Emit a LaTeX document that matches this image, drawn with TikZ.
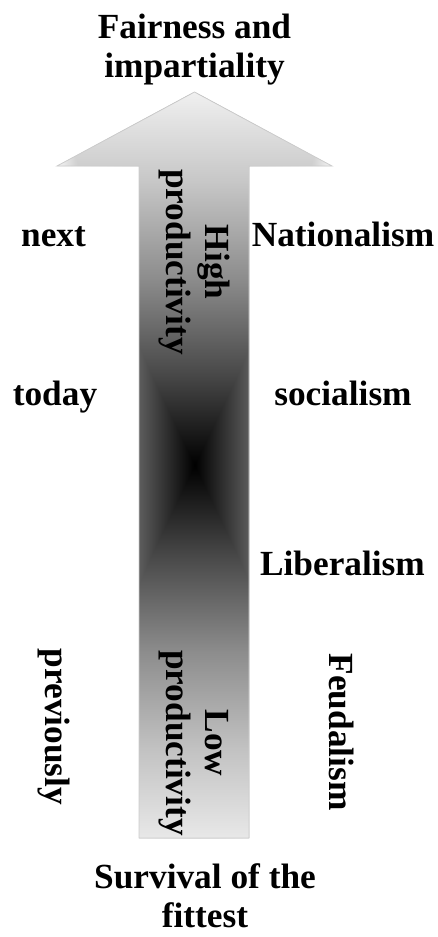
\documentclass[tikz,border=0pt]{standalone}
\usepackage{fontspec}
\setmainfont{Liberation Serif}
\usepackage{xcolor}
\usetikzlibrary{positioning}

\pgfdeclareverticalshading{arrowvert}{100bp}{color(0bp)=(black!9); color(25bp)=(black!9); color(31bp)=(black!24); color(37.5bp)=(black!45); color(44bp)=(black!72); color(50bp)=(black); color(56bp)=(black!72); color(62.5bp)=(black!45); color(69bp)=(black!22); color(75bp)=(black!6); color(100bp)=(black!6)}
\pgfdeclarehorizontalshading{arrowhorz}{100bp}{color(0bp)=(black!4); color(25bp)=(black!4); color(40bp)=(black!64); color(50bp)=(black); color(60bp)=(black!64); color(75bp)=(black!4); color(100bp)=(black!4)}
\def\arrowpath{(57,166) -- (194.5,92) -- (332,166) -- (249,166) -- (249,838) -- (139,838) -- (139,166) -- cycle}

\begin{document}
\begin{tikzpicture}[x=1pt, y=-1pt,
    txt/.style={font=\fontsize{35.3}{39}\selectfont\bfseries, inner sep=0pt, align=center},
    vtxt/.style={txt, rotate=-90}
]
\useasboundingbox (0,0) rectangle (438,937);

% Arrow
\shade[shading=arrowvert] \arrowpath;
\shade[shading=arrowhorz, blend mode=lighten] \arrowpath;
\draw[black!20, line width=0.8pt] \arrowpath;

% Ends of the scale
\node[txt] (top) at (194.5,50) {Fairness and\\impartiality};
\node[txt] (bottom) at (205,896) {Survival of the\\fittest};

% Inside the arrow
\node[vtxt] (high) at (194,262) {High\\productivity};
\node[vtxt] (low) at (194,743) {Low\\productivity};

% Times
\node[txt, anchor=base] (next) at (53.5,246) {next};
\node[txt, anchor=base] (today) at (55,405) {today};
\node[vtxt] (prev) at (54,727) {previously};

% Systems
\node[txt, anchor=base] (nation) at (343,246) {Nationalism};
\node[txt, anchor=base] (social) at (343,405) {socialism};
\node[txt, anchor=base] (liberal) at (342.5,575) {Liberalism};
\node[vtxt] (feudal) at (342,732) {Feudalism};

\end{tikzpicture}
\end{document}
